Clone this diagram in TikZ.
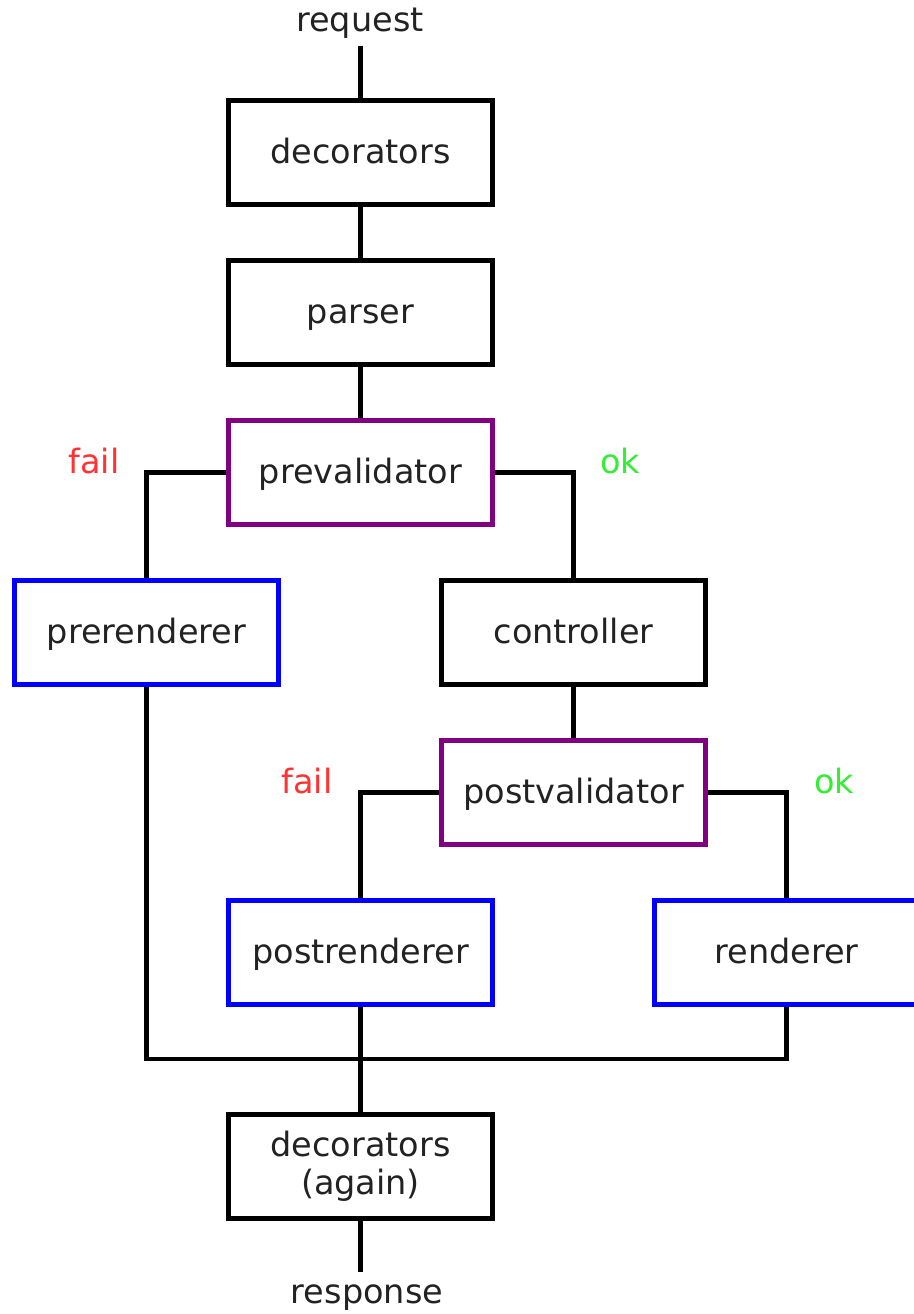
\documentclass[tikz,border=0pt]{standalone}
\usepackage{fontspec}
\setmainfont{DejaVu Sans}
\definecolor{txt}{HTML}{222222}
\definecolor{pur}{HTML}{800080}
\definecolor{blu}{HTML}{0000FF}
\definecolor{redl}{HTML}{FF3333}
\definecolor{grnl}{HTML}{33EE33}
\begin{document}
\begin{tikzpicture}[x=1pt,y=-1pt,
  box/.style={draw=black,line width=4.3pt,minimum width=264pt,minimum height=104pt,inner sep=0pt,text=txt,font=\fontsize{33.5}{38}\selectfont,align=center,text height=22pt,text depth=0pt},
  valbox/.style={box,draw=pur},
  renbox/.style={box,draw=blu},
  lbl/.style={font=\fontsize{33.5}{40}\selectfont,inner sep=0pt},
  conn/.style={line width=4.3pt,line join=miter}]
\useasboundingbox (0,0) rectangle (913,1314);
\node[lbl,text=txt] (request) at (360,23) {request};
\coordinate (reqend) at (360.5,46);
\node[box] (dec1) at (360.5,152.5) {decorators};
\node[box] (parser) at (360.5,312.5) {parser};
\node[valbox] (preval) at (360.5,472.5) {prevalidator};
\node[renbox] (prerend) at (146.5,632.5) {prerenderer};
\node[box] (ctrl) at (573.5,632.5) {controller};
\node[valbox] (postval) at (573.5,792.5) {postvalidator};
\node[renbox] (postrend) at (360.5,952.5) {postrenderer};
\node[renbox] (rend) at (786.5,952.5) {renderer};
\node[box,text height=56pt] (dec2) at (360.5,1166.5) {decorators\\(again)};
\node[lbl,text=txt] (response) at (367,1298) {response};
\coordinate (respend) at (360.5,1272);
\node[lbl,text=redl] (fail1) at (94,461) {fail};
\node[lbl,text=grnl] (ok1) at (620,461) {ok};
\node[lbl,text=redl] (fail2) at (307,781) {fail};
\node[lbl,text=grnl] (ok2) at (834,781) {ok};
\coordinate (join) at (360.5,1059);
\draw[conn] (reqend) -- (dec1.north);
\draw[conn] (dec1) -- (parser);
\draw[conn] (parser) -- (preval);
\draw[conn] (preval.west) -| (prerend.north);
\draw[conn] (preval.east) -| (ctrl.north);
\draw[conn] (ctrl) -- (postval);
\draw[conn] (postval.west) -| (postrend.north);
\draw[conn] (postval.east) -| (rend.north);
\draw[conn] (prerend.south) |- (join) -| (rend.south);
\draw[conn] (postrend.south) -- (dec2.north);
\draw[conn] (dec2.south) -- (respend);
\end{tikzpicture}
\end{document}
